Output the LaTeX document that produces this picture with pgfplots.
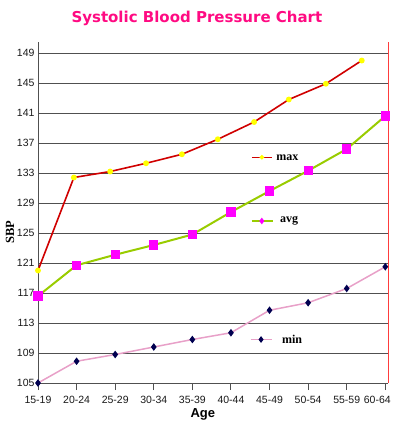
\documentclass[border=0pt]{standalone}
\usepackage{fontspec}
\setmainfont{Liberation Sans}
\newfontfamily\dejavu{DejaVu Sans}
\newfontfamily\timesf{Liberation Serif}
\usepackage{pgfplots}
\pgfplotsset{compat=1.18}
\definecolor{titlepink}{HTML}{FF0A82}
\definecolor{maxred}{HTML}{D00000}
\definecolor{avggreen}{HTML}{99CC00}
\definecolor{minpink}{HTML}{E8A0C8}
\definecolor{minnavy}{HTML}{000050}
\definecolor{gridgray}{HTML}{505050}
\definecolor{mag}{RGB}{255,0,255}
\definecolor{yel}{RGB}{255,255,0}
\definecolor{edgered}{RGB}{255,60,60}
\begin{document}
\begin{tikzpicture}
\begin{axis}[name=ax, scale only axis, width=350pt, height=341pt,
  xmin=0, xmax=9.07, ymin=105, ymax=150.47,
  clip=false,
  xtick={0,...,9},
  xticklabels={15-19,20-24,25-29,30-34,35-39,40-44,45-49,50-54,55-59,\hspace*{-16pt}60-64},
  ytick={105,109,...,149},
  ymajorgrids, grid style={gridgray, line width=1pt},
  axis x line*=bottom, axis y line*=left,
  axis line style={gridgray, line width=1pt},
  xtick align=outside, ytick align=inside,
  x tick style={gridgray, line width=1pt},
  major tick length=7pt,
  ytick style={draw=none},
  ticklabel style={font=\fontsize{10.5}{12}\selectfont, text=black!90},
  xticklabel style={yshift=-3pt},
  /pgf/number format/assume math mode=true,
  title={Systolic Blood Pressure Chart},
  title style={font=\dejavu\bfseries\fontsize{15}{18}\selectfont, text=titlepink, at={(axis description cs:0.454,1)}, anchor=center, yshift=18pt},
  xlabel={Age},
  xlabel style={font=\bfseries\fontsize{13}{15}\selectfont, at={(axis description cs:0.471,-0.091)}, anchor=center},
  ylabel={SBP},
  ylabel style={font=\timesf\bfseries\fontsize{12.5}{14}\selectfont, at={(axis description cs:-0.08,0.443)}, anchor=center},
]
\addplot[maxred, line width=1.6pt, mark=*, mark size=2.1pt, mark options={fill=yel, draw=yel}]
  coordinates {(0,120)(0.93,132.4)(1.87,133.2)(2.80,134.3)(3.73,135.5)(4.66,137.5)(5.60,139.8)(6.50,142.8)(7.46,144.9)(8.39,148)};
\addplot[avggreen, line width=2pt, mark=square*, mark size=3.6pt, mark options={fill=mag, draw=mag}]
  coordinates {(0,116.6)(1,120.7)(2,122.1)(3,123.4)(4,124.8)(5,127.8)(6,130.6)(7,133.3)(8,136.2)(9,140.6)};
\addplot[minpink, line width=1.5pt, mark=diamond*, mark size=2.6pt, mark options={fill=minnavy, draw=minnavy}]
  coordinates {(0,105)(1,107.9)(2,108.8)(3,109.8)(4,110.8)(5,111.7)(6,114.7)(7,115.7)(8,117.6)(9,120.5)};
% legend samples
\addplot[maxred, line width=1.2pt, mark=*, mark size=1.6pt, mark options={fill=yel, draw=yel}, mark indices={2}, forget plot]
  coordinates {(5.54,135.1)(5.80,135.1)(6.06,135.1)};
\addplot[avggreen, line width=1.4pt, mark=diamond*, mark size=2.2pt, mark options={fill=mag, draw=mag}, mark indices={2}, forget plot]
  coordinates {(5.54,126.6)(5.80,126.6)(6.08,126.6)};
\addplot[minpink, line width=1.2pt, mark=diamond*, mark size=2.4pt, mark options={fill=minnavy, draw=minnavy}, mark indices={2}, forget plot]
  coordinates {(5.51,110.8)(5.78,110.8)(6.06,110.8)};
\node[anchor=west, inner sep=0pt, font=\timesf\bfseries\fontsize{12}{13}\selectfont] at (axis cs:6.17,135.1) {max};
\node[anchor=west, inner sep=0pt, font=\timesf\bfseries\fontsize{12}{13}\selectfont] at (axis cs:6.27,126.6) {avg};
\node[anchor=west, inner sep=0pt, font=\timesf\bfseries\fontsize{12}{13}\selectfont] at (axis cs:6.32,110.8) {min};
\draw[edgered, line width=1pt] (rel axis cs:1,0) -- (rel axis cs:1,1);
\end{axis}
\pgfresetboundingbox
\path (ax.south west) ++(-38pt,-42pt) rectangle ++(395pt,425pt);
\end{tikzpicture}
\end{document}
